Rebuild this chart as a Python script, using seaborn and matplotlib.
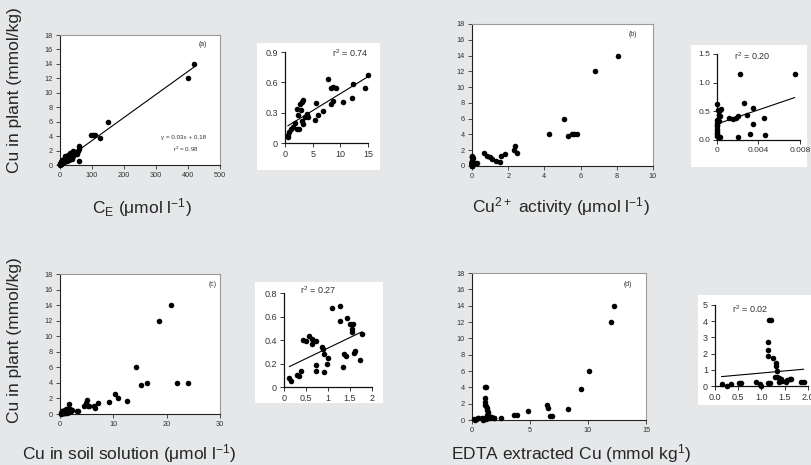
import numpy as np
import matplotlib
matplotlib.use("Agg")
import matplotlib.pyplot as plt
import seaborn as sns
from matplotlib.patches import Rectangle

sns.set_theme(style="ticks")
plt.rcParams["font.family"] = ["Liberation Sans", "DejaVu Sans"]
plt.rcParams["mathtext.default"] = "regular"

# ---------------- data ----------------
# (a) Cu in plant vs C_E ; low-range subset shown in inset
a_in_x = [15.0, 12.3, 14.5, 12.1, 10.4, 7.8, 8.3, 8.7, 9.2, 8.6, 8.4, 6.9, 6.0, 5.6, 5.4,
          4.2, 3.9, 3.6, 3.3, 3.0, 2.8, 2.9, 2.1, 2.3, 3.0, 3.3, 2.1, 2.6, 1.8, 1.5, 1.0,
          0.8, 0.6, 0.5]
a_in_y = [0.67, 0.58, 0.54, 0.45, 0.41, 0.63, 0.54, 0.55, 0.54, 0.42, 0.39, 0.32, 0.28, 0.40, 0.23,
          0.26, 0.29, 0.26, 0.43, 0.41, 0.39, 0.33, 0.34, 0.28, 0.22, 0.19, 0.14, 0.14, 0.20, 0.16, 0.14,
          0.11, 0.08, 0.06]
a_hi_x = [420, 400, 150, 97, 104, 110, 125, 58, 59, 56, 50, 45, 40, 35, 31, 26, 20, 16,
          59, 30, 36, 47, 28, 18, 13, 52, 42, 22, 24, 33]
a_hi_y = [14.0, 12.0, 6.0, 4.1, 4.1, 4.1, 3.8, 2.6, 2.2, 1.9, 1.7, 1.8, 1.9, 1.6, 1.6, 1.4, 0.9, 1.3,
          0.6, 1.0, 0.9, 1.5, 0.7, 0.6, 0.8, 1.5, 1.2, 0.5, 1.1, 1.2]

# (b) Cu in plant vs Cu2+ activity
b_in_x = [0.0022, 0.0075, 0.0026, 0.0035, 0.0029, 0.0020, 0.0018, 0.0015, 0.0012, 0.0045,
          0.0035, 0.0032, 0.0046, 0.0020, 0.0003, 0.0, 0.0001, 0.0003, 0.0004, 0.0003,
          0.0002, 0.0, 0.0, 0.0, 0.0, 0.0, 0.0, 0.0, 0.0, 0.0, 0.0001, 0.0002]
b_in_y = [1.15, 1.15, 0.65, 0.56, 0.44, 0.41, 0.38, 0.37, 0.38, 0.39,
          0.28, 0.10, 0.09, 0.05, 0.05, 0.62, 0.52, 0.53, 0.54, 0.42,
          0.44, 0.35, 0.30, 0.27, 0.24, 0.20, 0.16, 0.13, 0.10, 0.07, 0.05, 0.33]
b_hi_x = [8.05, 6.8, 5.1, 4.25, 5.3, 5.5, 5.63, 5.78, 2.39, 2.3, 2.51, 1.82, 1.6, 1.52, 1.34,
          1.0, 1.1, 0.68, 0.83, 0.28, 0.18, 0.02, 0.03]
b_hi_y = [14.0, 12.0, 6.0, 4.1, 3.85, 4.05, 4.05, 4.05, 2.5, 2.0, 1.7, 1.5, 1.3, 0.47, 0.64,
          1.15, 0.95, 1.67, 1.3, 0.35, 0.35, 1.3, 1.0]

# (c) Cu in plant vs Cu in soil solution
c_in_x = [0.12, 0.15, 0.30, 0.35, 0.39, 0.44, 0.50, 0.56, 0.63, 0.63, 0.73, 0.73, 0.73, 0.86,
          0.88, 0.91, 0.91, 0.97, 0.99, 1.09, 1.28, 1.28, 1.34, 1.37, 1.41, 1.43, 1.50, 1.57,
          1.54, 1.54, 1.58, 1.62, 1.73, 1.77]
c_in_y = [0.077, 0.05, 0.10, 0.09, 0.14, 0.40, 0.395, 0.43, 0.41, 0.37, 0.39, 0.19, 0.14, 0.34,
          0.32, 0.28, 0.13, 0.20, 0.25, 0.67, 0.69, 0.56, 0.17, 0.28, 0.26, 0.59, 0.54, 0.54,
          0.49, 0.47, 0.29, 0.31, 0.23, 0.45]
c_hi_x = [20.75, 18.5, 14.2, 15.1, 16.3, 21.9, 24.0, 12.5, 10.85, 10.4, 9.2, 7.2, 6.56, 6.4,
          5.07, 5.25, 5.5, 4.47, 4.9, 3.4, 3.1, 1.6, 2.0, 2.2, 1.9]
c_hi_y = [14.0, 12.0, 6.0, 3.76, 3.97, 3.97, 3.97, 1.7, 2.05, 2.56, 1.58, 1.41, 0.77, 1.07,
          1.75, 1.07, 0.98, 0.98, 1.41, 0.38, 0.38, 1.24, 0.45, 0.5, 0.6]

# (d) Cu in plant vs EDTA extracted Cu
d_in_x = [0.14, 0.25, 0.34, 0.52, 0.55, 0.89, 0.96, 0.98, 1.14, 1.19, 1.16, 1.21, 1.14, 1.14,
          1.14, 1.24, 1.31, 1.32, 1.34, 1.29, 1.34, 1.38, 1.43, 1.45, 1.52, 1.54, 1.61, 1.64,
          1.86, 1.91, 1.38]
d_in_y = [0.10, 0.02, 0.12, 0.20, 0.20, 0.25, 0.12, 0.02, 0.20, 0.16, 4.1, 4.1, 2.7, 2.2,
          1.85, 1.7, 1.44, 1.23, 0.95, 0.58, 0.53, 0.47, 0.41, 0.33, 0.27, 0.37, 0.41, 0.41,
          0.25, 0.25, 0.27]
d_hi_x = [12.26, 11.97, 10.07, 9.43, 8.28, 6.92, 6.7, 6.49, 6.58, 4.82, 3.89, 3.66, 2.51]
d_hi_y = [14.0, 12.0, 6.0, 3.77, 1.35, 0.53, 0.45, 1.84, 1.5, 1.07, 0.61, 0.61, 0.29]

main_yticks = list(range(0, 19, 2))
a_xticks = [0, 100, 200, 300, 400, 500]
b_xticks = [0, 2, 4, 6, 8, 10]
c_xticks = [0, 10, 20, 30]
d_xticks = [0, 5, 10, 15]

ia_xticks, ia_xlabels = [0, 5, 10, 15], ["0", "5", "10", "15"]
ia_yticks, ia_ylabels = [0, 0.3, 0.6, 0.9], ["0", "0.3", "0.6", "0.9"]
ib_xticks, ib_xlabels = [0, 0.004, 0.008], ["0", "0.004", "0.008"]
ib_yticks, ib_ylabels = [0, 0.5, 1.0, 1.5], ["0.0", "0.5", "1.0", "1.5"]
ic_xticks, ic_xlabels = [0, 0.5, 1, 1.5, 2], ["0", "0.5", "1", "1.5", "2"]
ic_yticks, ic_ylabels = [0, 0.2, 0.4, 0.6, 0.8], ["0", "0.2", "0.4", "0.6", "0.8"]
id_xticks, id_xlabels = [0, 0.5, 1.0, 1.5, 2.0], ["0.0", "0.5", "1.0", "1.5", "2.0"]
id_yticks, id_ylabels = [0, 1, 2, 3, 4, 5], ["0", "1", "2", "3", "4", "5"]

r2_labels = ["0.74", "0.20", "0.27", "0.02"]

# ---------------- figure ----------------
W, H = 812, 465
fig = plt.figure(figsize=(W / 100, H / 100), dpi=100)
fig.patch.set_facecolor("#e6e7e9")


def box(x0, y0, x1, y1):
    return [x0 / W, 1 - y1 / H, (x1 - x0) / W, (y1 - y0) / H]


def ftext(x, y, s, **kw):
    fig.text(x / W, 1 - y / H, s, **kw)


def white_panel(x0, y0, x1, y1):
    fig.patches.append(Rectangle((x0 / W, 1 - y1 / H), (x1 - x0) / W, (y1 - y0) / H,
                                 transform=fig.transFigure, facecolor="white",
                                 edgecolor="none", zorder=-1))


def scatter_fit(ax, x, y, fit, s):
    sns.scatterplot(x=x, y=y, ax=ax, color="black", s=s, linewidth=0, clip_on=False, zorder=3)
    if fit:
        sns.regplot(x=np.asarray(x), y=np.asarray(y), ax=ax, scatter=False, ci=None,
                    truncate=True, color="black", line_kws=dict(lw=0.8))


def main_panel(rect, x, y, xlim, xticks, fit=False):
    ax = fig.add_axes(box(*rect))
    scatter_fit(ax, x, y, fit, 16)
    ax.set_facecolor("white")
    ax.set_xlim(xlim)
    ax.set_ylim(0, 18)
    ax.set_xticks(xticks)
    ax.set_yticks(main_yticks)
    for s in ["top", "right"]:
        ax.spines[s].set_color("#9a9a9a")
        ax.spines[s].set_linewidth(0.8)
    for s in ["left", "bottom"]:
        ax.spines[s].set_color("#222222")
        ax.spines[s].set_linewidth(0.8)
    ax.tick_params(direction="out", length=3, width=0.6, labelsize=5.3,
                   colors="#333333", pad=2)
    ax.set_xlabel("")
    ax.set_ylabel("")
    return ax


def inset_panel(rect, bg, x, y, xlim, ylim, xt, xl, yt, yl, fs=6.5):
    white_panel(*bg)
    ax = fig.add_axes(box(*rect))
    scatter_fit(ax, x, y, True, 16)
    ax.set_facecolor("white")
    ax.set_xlim(xlim)
    ax.set_ylim(ylim)
    ax.set_xticks(xt)
    ax.set_xticklabels(xl)
    ax.set_yticks(yt)
    ax.set_yticklabels(yl)
    sns.despine(ax=ax)
    for s in ["left", "bottom"]:
        ax.spines[s].set_color("#111111")
        ax.spines[s].set_linewidth(0.9)
    ax.tick_params(direction="out", length=3, width=0.7, labelsize=fs,
                   colors="#333333", pad=2)
    ax.set_xlabel("")
    ax.set_ylabel("")
    return ax


# panel (a)
main_panel((60, 35, 220, 165), a_in_x + a_hi_x, a_in_y + a_hi_y, (0, 500), a_xticks, fit=True)
inset_panel((285, 52, 368, 143), (257, 43, 380, 170), a_in_x, a_in_y, (0, 15), (0, 0.9),
            ia_xticks, ia_xlabels, ia_yticks, ia_ylabels)

# panel (b)
main_panel((472, 24, 653, 166), b_in_x + b_hi_x, b_in_y + b_hi_y, (0, 10), b_xticks)
inset_panel((717, 54, 800, 140), (691, 45, 807, 167), b_in_x, b_in_y, (0, 0.008), (0, 1.5),
            ib_xticks, ib_xlabels, ib_yticks, ib_ylabels, fs=6)

# panel (c)
main_panel((60, 274, 220, 414), c_in_x + c_hi_x, c_in_y + c_hi_y, (0, 30), c_xticks)
inset_panel((284, 293, 372, 387), (255, 282, 383, 403), c_in_x, c_in_y, (0, 2), (0, 0.8),
            ic_xticks, ic_xlabels, ic_yticks, ic_ylabels)

# panel (d)
main_panel((472, 273, 646, 420), d_in_x + d_hi_x, d_in_y + d_hi_y, (0, 15), d_xticks)
inset_panel((715, 305, 808, 386), (698, 295, 820, 405), d_in_x, d_in_y, (0, 2.0), (0, 5),
            id_xticks, id_xlabels, id_yticks, id_ylabels)

# panel tags
for (px, py), tag in zip([(203, 45), (633, 35), (213, 284), (628, 284)],
                         ["(a)", "(b)", "(c)", "(d)"]):
    ftext(px, py, tag, fontsize=5, ha="center", va="center", color="#333333")

# fitted equation in (a)
ftext(184, 137, "y = 0.03x + 0.18", fontsize=4.5, ha="center", va="center", color="#333333")
ftext(186, 149, "r$^2$ = 0.98", fontsize=4.5, ha="center", va="center", color="#333333")

# r² in insets
for (px, py), r2 in zip([(350, 53), (752, 56), (318, 290), (750, 309)], r2_labels):
    ftext(px, py, "r$^2$ = " + r2, fontsize=6.5, ha="center", va="center", color="#333333")

# axis titles
ylab = "Cu in plant (mmol/kg)"
ftext(15, 90, ylab, rotation=90, fontsize=12.5, ha="center", va="center")
ftext(15, 340, ylab, rotation=90, fontsize=12.5, ha="center", va="center")
ftext(142, 208, "C$_E$ (μmol l$^{-1}$)", fontsize=12.5, ha="center", va="center")
ftext(561, 207, "Cu$^{2+}$ activity (μmol l$^{-1}$)", fontsize=12.5, ha="center", va="center")
ftext(129, 454, "Cu in soil solution (μmol l$^{-1}$)", fontsize=12.5, ha="center", va="center")
ftext(571, 454, "EDTA extracted Cu (mmol kg$^{1}$)", fontsize=12.5, ha="center", va="center")

fig.savefig("out.png", dpi=100, facecolor=fig.get_facecolor())
